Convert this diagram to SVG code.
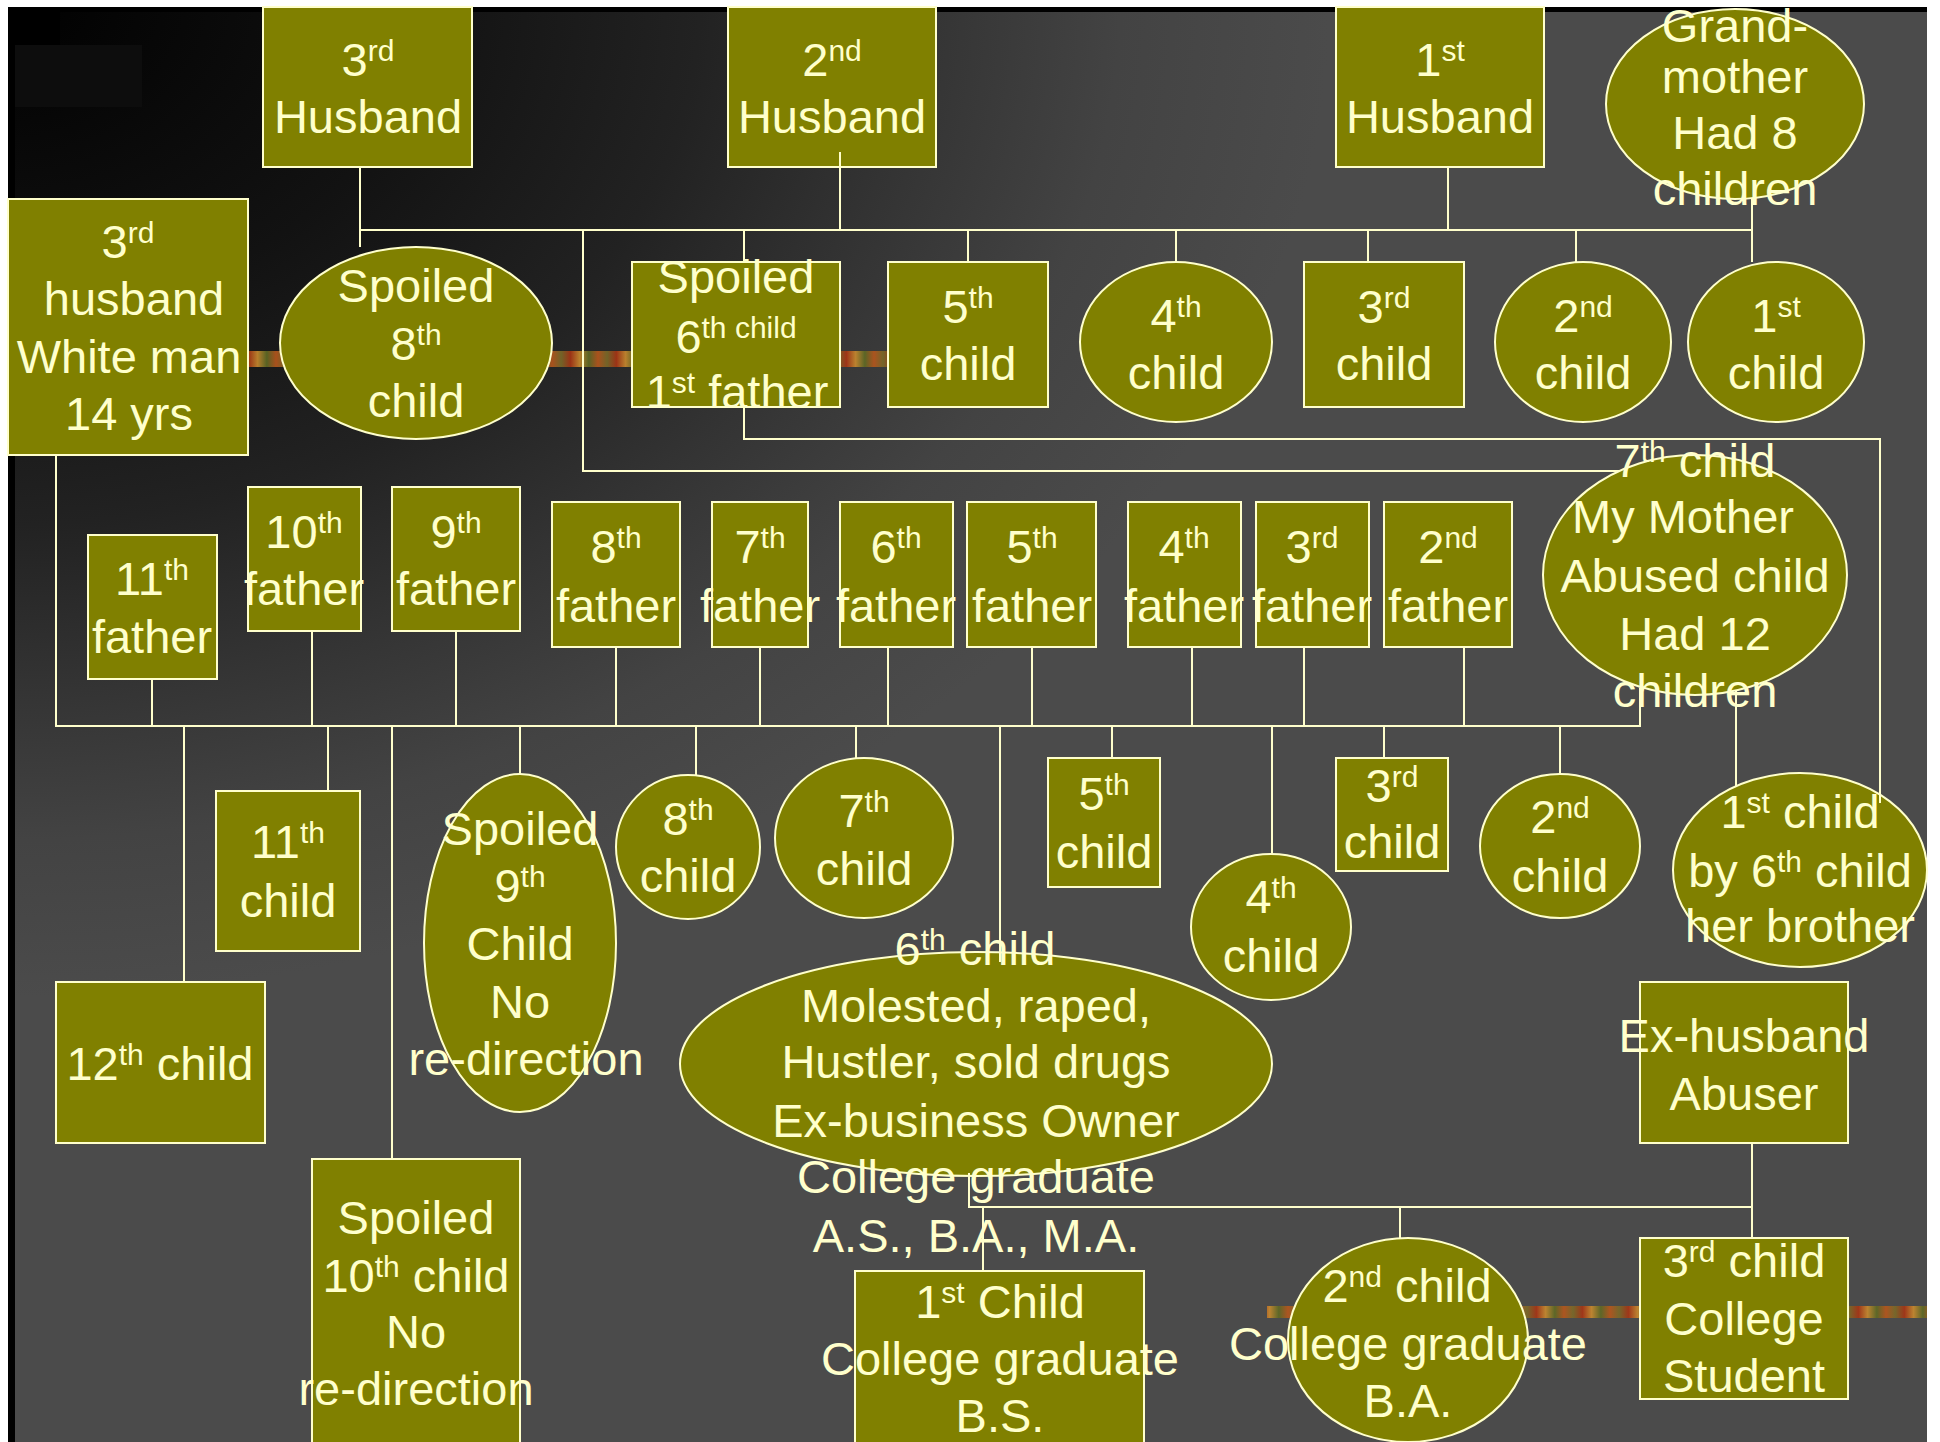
<svg xmlns="http://www.w3.org/2000/svg" width="1940" height="1442" viewBox="0 0 1940 1442">
<defs>
<radialGradient id="bg" gradientUnits="userSpaceOnUse" cx="0" cy="0" r="1400" gradientTransform="scale(1,0.75)">
<stop offset="0" stop-color="#000000"/>
<stop offset="0.3" stop-color="#121212"/>
<stop offset="0.5" stop-color="#222222"/>
<stop offset="0.65" stop-color="#333333"/>
<stop offset="0.8" stop-color="#434343"/>
<stop offset="0.95" stop-color="#4b4b4b"/>
<stop offset="1" stop-color="#4b4b4b"/>
</radialGradient>
<linearGradient id="band" gradientUnits="userSpaceOnUse" x1="0" y1="0" x2="46" y2="0" spreadMethod="repeat">
<stop offset="0" stop-color="#b8561c"/>
<stop offset="0.2" stop-color="#7a6a28"/>
<stop offset="0.4" stop-color="#a83414"/>
<stop offset="0.6" stop-color="#c98a2e"/>
<stop offset="0.8" stop-color="#5e6a24"/>
<stop offset="1" stop-color="#b8561c"/>
</linearGradient>
<style>
.box{fill:#808000;stroke:#ffffcc;stroke-width:2}
.t{font-family:"Liberation Sans",Arial,sans-serif;font-size:47px;fill:#ffffcc;text-anchor:middle}
.s{font-size:30px}
.c{fill:none;stroke:#ffffcc;stroke-width:2}
</style>
</defs>

<rect x="0" y="0" width="1940" height="1442" fill="#ffffff"/>
<rect x="8" y="7" width="1919" height="1435" fill="url(#bg)"/>
<rect x="8" y="7" width="1919" height="5" fill="#000000"/>
<rect x="8" y="7" width="7" height="1435" fill="#000000"/>
<rect x="8" y="7" width="52" height="38" fill="#000000"/>
<rect x="15" y="45" width="127" height="62" fill="#0d0d0d"/>
<rect x="248" y="351" width="640" height="16" fill="url(#band)" opacity="0.9"/>
<rect x="1267" y="1306" width="660" height="12" fill="url(#band)" opacity="0.9"/>

<g id="n_h3"><rect class="box" x="263" y="7" width="209" height="160"/>
<text class="t" x="368" y="76">3<tspan class="s" dy="-15">rd</tspan></text>
<text class="t" x="368" y="133">Husband</text></g>
<g id="n_h2"><rect class="box" x="728" y="7" width="208" height="160"/>
<text class="t" x="832" y="76">2<tspan class="s" dy="-15">nd</tspan></text>
<text class="t" x="832" y="133">Husband</text></g>
<g id="n_h1"><rect class="box" x="1336" y="7" width="208" height="160"/>
<text class="t" x="1440" y="76">1<tspan class="s" dy="-15">st</tspan></text>
<text class="t" x="1440" y="133">Husband</text></g>
<g id="n_gm"><ellipse class="box" cx="1735" cy="104" rx="129" ry="95"/>
<text class="t" x="1735" y="42">Grand-</text>
<text class="t" x="1735" y="93">mother</text>
<text class="t" x="1735" y="149">Had 8</text>
<text class="t" x="1735" y="205">children</text></g>

<g id="n_wm"><rect class="box" x="8" y="199" width="240" height="256"/>
<text class="t" x="128" y="258">3<tspan class="s" dy="-15">rd</tspan></text>
<text class="t" x="134" y="315">husband</text>
<text class="t" x="129" y="373">White man</text>
<text class="t" x="129" y="430">14 yrs</text></g>
<g id="n_s8"><ellipse class="box" cx="416" cy="343" rx="136" ry="96"/>
<text class="t" x="416" y="302">Spoiled</text>
<text class="t" x="416" y="360">8<tspan class="s" dy="-15">th</tspan></text>
<text class="t" x="416" y="417">child</text></g>
<g id="n_s6"><rect class="box" x="632" y="262" width="208" height="145"/>
<text class="t" x="736" y="293">Spoiled</text>
<text class="t" x="736" y="353">6<tspan class="s" dy="-15">th child</tspan></text>
<text class="t" x="737" y="408">1<tspan class="s" dy="-15">st</tspan><tspan dy="15"> father</tspan></text></g>
<g id="n_c5"><rect class="box" x="888" y="262" width="160" height="145"/>
<text class="t" x="968" y="323">5<tspan class="s" dy="-15">th</tspan></text>
<text class="t" x="968" y="380">child</text></g>
<g id="n_c4"><ellipse class="box" cx="1176" cy="342" rx="96" ry="80"/>
<text class="t" x="1176" y="332">4<tspan class="s" dy="-15">th</tspan></text>
<text class="t" x="1176" y="389">child</text></g>
<g id="n_c3"><rect class="box" x="1304" y="262" width="160" height="145"/>
<text class="t" x="1384" y="323">3<tspan class="s" dy="-15">rd</tspan></text>
<text class="t" x="1384" y="380">child</text></g>
<g id="n_c2"><ellipse class="box" cx="1583" cy="342" rx="88" ry="80"/>
<text class="t" x="1583" y="332">2<tspan class="s" dy="-15">nd</tspan></text>
<text class="t" x="1583" y="389">child</text></g>
<g id="n_c1"><ellipse class="box" cx="1776" cy="342" rx="88" ry="80"/>
<text class="t" x="1776" y="332">1<tspan class="s" dy="-15">st</tspan></text>
<text class="t" x="1776" y="389">child</text></g>

<g id="f11"><rect class="box" x="88" y="535" width="129" height="144"/>
<text class="t" x="152" y="595">11<tspan class="s" dy="-15">th</tspan></text>
<text class="t" x="152" y="653">father</text></g>
<g id="f10"><rect class="box" x="248" y="487" width="113" height="144"/>
<text class="t" x="304" y="548">10<tspan class="s" dy="-15">th</tspan></text>
<text class="t" x="304" y="605">father</text></g>
<g id="f9"><rect class="box" x="392" y="487" width="128" height="144"/>
<text class="t" x="456" y="548">9<tspan class="s" dy="-15">th</tspan></text>
<text class="t" x="456" y="605">father</text></g>
<g id="f8"><rect class="box" x="552" y="502" width="128" height="145"/>
<text class="t" x="616" y="563">8<tspan class="s" dy="-15">th</tspan></text>
<text class="t" x="616" y="622">father</text></g>
<g id="f7"><rect class="box" x="712" y="502" width="96" height="145"/>
<text class="t" x="760" y="563">7<tspan class="s" dy="-15">th</tspan></text>
<text class="t" x="760" y="622">father</text></g>
<g id="f6"><rect class="box" x="840" y="502" width="113" height="145"/>
<text class="t" x="896" y="563">6<tspan class="s" dy="-15">th</tspan></text>
<text class="t" x="896" y="622">father</text></g>
<g id="f5"><rect class="box" x="967" y="502" width="129" height="145"/>
<text class="t" x="1032" y="563">5<tspan class="s" dy="-15">th</tspan></text>
<text class="t" x="1032" y="622">father</text></g>
<g id="f4"><rect class="box" x="1128" y="502" width="113" height="145"/>
<text class="t" x="1184" y="563">4<tspan class="s" dy="-15">th</tspan></text>
<text class="t" x="1184" y="622">father</text></g>
<g id="f3"><rect class="box" x="1256" y="502" width="113" height="145"/>
<text class="t" x="1312" y="563">3<tspan class="s" dy="-15">rd</tspan></text>
<text class="t" x="1312" y="622">father</text></g>
<g id="f2"><rect class="box" x="1384" y="502" width="128" height="145"/>
<text class="t" x="1448" y="563">2<tspan class="s" dy="-15">nd</tspan></text>
<text class="t" x="1448" y="622">father</text></g>
<g id="n_mom"><ellipse class="box" cx="1695" cy="575" rx="152" ry="120"/>
<text class="t" x="1695" y="477">7<tspan class="s" dy="-15">th</tspan><tspan dy="15"> child</tspan></text>
<text class="t" x="1683" y="533">My Mother</text>
<text class="t" x="1695" y="592">Abused child</text>
<text class="t" x="1695" y="650">Had 12</text>
<text class="t" x="1695" y="707">children</text></g>

<g id="c11"><rect class="box" x="216" y="791" width="144" height="160"/>
<text class="t" x="288" y="858">11<tspan class="s" dy="-15">th</tspan></text>
<text class="t" x="288" y="917">child</text></g>
<g id="s9"><ellipse class="box" cx="520" cy="943" rx="96" ry="169"/>
<text class="t" x="520" y="845">Spoiled</text>
<text class="t" x="520" y="902">9<tspan class="s" dy="-15">th</tspan></text>
<text class="t" x="520" y="960">Child</text>
<text class="t" x="520" y="1018">No</text>
<text class="t" x="526" y="1075">re-direction</text></g>
<g id="c8"><ellipse class="box" cx="688" cy="847" rx="72" ry="72"/>
<text class="t" x="688" y="835">8<tspan class="s" dy="-15">th</tspan></text>
<text class="t" x="688" y="892">child</text></g>
<g id="c7"><ellipse class="box" cx="864" cy="838" rx="89" ry="80"/>
<text class="t" x="864" y="827">7<tspan class="s" dy="-15">th</tspan></text>
<text class="t" x="864" y="885">child</text></g>
<g id="c5b"><rect class="box" x="1048" y="758" width="112" height="129"/>
<text class="t" x="1104" y="810">5<tspan class="s" dy="-15">th</tspan></text>
<text class="t" x="1104" y="868">child</text></g>
<g id="c4b"><ellipse class="box" cx="1271" cy="927" rx="80" ry="73"/>
<text class="t" x="1271" y="913">4<tspan class="s" dy="-15">th</tspan></text>
<text class="t" x="1271" y="972">child</text></g>
<g id="c3b"><rect class="box" x="1336" y="758" width="112" height="113"/>
<text class="t" x="1392" y="802">3<tspan class="s" dy="-15">rd</tspan></text>
<text class="t" x="1392" y="858">child</text></g>
<g id="c2b"><ellipse class="box" cx="1560" cy="846" rx="80" ry="72"/>
<text class="t" x="1560" y="833">2<tspan class="s" dy="-15">nd</tspan></text>
<text class="t" x="1560" y="892">child</text></g>
<g id="c1b"><ellipse class="box" cx="1800" cy="870" rx="127" ry="97"/>
<text class="t" x="1800" y="828">1<tspan class="s" dy="-15">st</tspan><tspan dy="15"> child</tspan></text>
<text class="t" x="1800" y="887">by 6<tspan class="s" dy="-15">th</tspan><tspan dy="15"> child</tspan></text>
<text class="t" x="1800" y="942">her brother</text></g>

<g id="c12"><rect class="box" x="56" y="982" width="209" height="161"/>
<text class="t" x="160" y="1080">12<tspan class="s" dy="-15">th</tspan><tspan dy="15"> child</tspan></text></g>
<g id="s10"><rect class="box" x="312" y="1159" width="208" height="300"/>
<text class="t" x="416" y="1234">Spoiled</text>
<text class="t" x="416" y="1292">10<tspan class="s" dy="-15">th</tspan><tspan dy="15"> child</tspan></text>
<text class="t" x="416" y="1348">No</text>
<text class="t" x="416" y="1405">re-direction</text></g>
<g id="c6"><ellipse class="box" cx="976" cy="1064" rx="296" ry="112"/>
<text class="t" x="975" y="965">6<tspan class="s" dy="-15">th</tspan><tspan dy="15"> child</tspan></text>
<text class="t" x="976" y="1022">Molested, raped,</text>
<text class="t" x="976" y="1078">Hustler, sold drugs</text>
<text class="t" x="976" y="1137">Ex-business Owner</text>
<text class="t" x="976" y="1193">College graduate</text>
<text class="t" x="976" y="1252">A.S., B.A., M.A.</text></g>
<g id="exh"><rect class="box" x="1640" y="982" width="208" height="161"/>
<text class="t" x="1744" y="1052">Ex-husband</text>
<text class="t" x="1744" y="1110">Abuser</text></g>
<g id="g1"><rect class="box" x="855" y="1271" width="289" height="200"/>
<text class="t" x="1000" y="1318">1<tspan class="s" dy="-15">st</tspan><tspan dy="15"> Child</tspan></text>
<text class="t" x="1000" y="1375">College graduate</text>
<text class="t" x="1000" y="1432">B.S.</text></g>
<g id="g2"><ellipse class="box" cx="1408" cy="1340" rx="120" ry="102"/>
<text class="t" x="1407" y="1302">2<tspan class="s" dy="-15">nd</tspan><tspan dy="15"> child</tspan></text>
<text class="t" x="1408" y="1360">College graduate</text>
<text class="t" x="1408" y="1417">B.A.</text></g>
<g id="g3"><rect class="box" x="1640" y="1238" width="208" height="161"/>
<text class="t" x="1744" y="1277">3<tspan class="s" dy="-15">rd</tspan><tspan dy="15"> child</tspan></text>
<text class="t" x="1744" y="1335">College</text>
<text class="t" x="1744" y="1392">Student</text></g>

<g id="connectors" class="c">
<path d="M360,167 V247 M360,230 H1752 M840,152 V230 M583,230 V471 H1619 M744,230 V262 M968,230 V262 M1176,230 V262 M1448,167 V230 M1368,230 V262 M1576,230 V262 M1752,199 V262"/>
<path d="M744,407 V439 H1880 V803"/>
<path d="M56,455 V726 H1640 V688"/>
<path d="M152,679 V726 M312,631 V726 M456,631 V726 M616,647 V726 M760,647 V726 M888,647 V726 M1032,647 V726 M1192,647 V726 M1304,647 V726 M1464,647 V726"/>
<path d="M184,726 V982 M328,726 V791 M392,726 V1159 M520,726 V774 M696,726 V775 M856,726 V758 M1000,726 V962 M1112,726 V758 M1272,726 V854 M1384,726 V758 M1560,726 V774"/>
<path d="M1736,691 V787"/>
<path d="M969,1173 V1207 H1752 M1752,1143 V1238 M983,1207 V1271 M1400,1207 V1238"/>
</g>
</svg>
